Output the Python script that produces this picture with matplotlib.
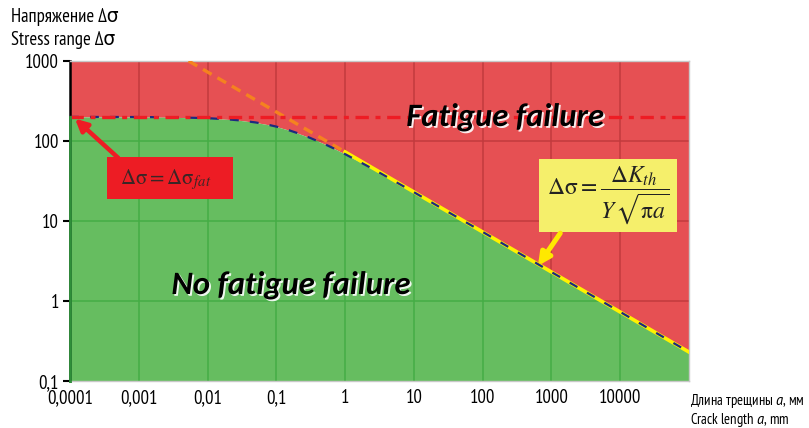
import numpy as np
import matplotlib.pyplot as plt
import matplotlib.patheffects as pe
from matplotlib.patches import Rectangle

plt.rcParams['font.family'] = ['PT Sans Narrow', 'DejaVu Sans']
plt.rcParams['mathtext.fontset'] = 'custom'
plt.rcParams['mathtext.rm'] = 'PT Sans Narrow'
plt.rcParams['mathtext.it'] = 'PT Sans:italic'

# values
crack_len = [1e-4, 1e-3, 3e-3, 0.01, 0.02, 0.03, 0.05, 0.075, 0.1, 0.15, 0.2,
             0.3, 0.5, 0.7, 1, 2, 3, 10, 100, 1000, 1e4, 1e5]
stress_lim = [200, 199.3, 197.8, 192.9, 186, 180.6, 170.5, 160, 151.3, 137, 126,
              110.6, 91.7, 80, 68.5, 49.9, 41.2, 22.9, 7.3, 2.3, 0.73, 0.23]
fatigue_limit = 200
# threshold line dK_th / (Y sqrt(pi a)), dashed part and solid part
thr_dash_a = [0.0053, 1.0]
thr_dash_s = [1000, 73]
thr_solid_a = [1.0, 1e5]
thr_solid_s = [73, 0.23]

x_ticks = [1e-4, 1e-3, 1e-2, 0.1, 1, 10, 100, 1000, 1e4, 1e5]
x_labels = ['0,0001', '0,001', '0,01', '0,1', '1', '10', '100', '1000', '10000', '']
y_ticks = [0.1, 1, 10, 100, 1000]
y_labels = ['0,1', '1', '10', '100', '1000']

red = '#e65053'
green = '#66bd60'

fig = plt.figure(figsize=(8.09, 4.28), dpi=100)
ax = fig.add_axes([0.0865, 0.1098, 0.7652, 0.7477])
ax.set_xscale('log')
ax.set_yscale('log')
ax.set_xlim(x_ticks[0], x_ticks[-1])
ax.set_ylim(y_ticks[0], y_ticks[-1])

red_fill = ax.fill_between(crack_len, stress_lim, y_ticks[-1], color=red, lw=0, zorder=1)
green_fill = ax.fill_between(crack_len, y_ticks[0], stress_lim, color=green, lw=0, zorder=1)

# grid lines, coloured per region
for fill, gcol in [(red_fill, '#c23a3d'), (green_fill, '#45ad45')]:
    path = fill.get_paths()[0]
    vl = ax.vlines(x_ticks[1:-1], y_ticks[0], y_ticks[-1], colors=gcol, lw=1.1, zorder=1.5)
    hl = ax.hlines(y_ticks[1:-1], x_ticks[0], x_ticks[-1], colors=gcol, lw=1.1, zorder=1.5)
    vl.set_clip_path(path, fill.get_transform())
    hl.set_clip_path(path, fill.get_transform())

# threshold asymptote
ax.plot(thr_dash_a, thr_dash_s, color='#f5821f', lw=2.4, dashes=(3, 2), zorder=3)
ax.plot(thr_solid_a, thr_solid_s, color='#fff200', lw=2.6, zorder=3)
# limit curve
ax.plot(crack_len, stress_lim, color='#1c2a80', lw=1.6, dashes=(4, 5), zorder=4)
# fatigue limit
ax.axhline(fatigue_limit, color='#ee1c24', lw=2.4, dashes=(4, 2, 1.5, 2), zorder=5)
# dark green edge on the left of the safe zone
ax.plot([crack_len[0], crack_len[0]], [y_ticks[0], stress_lim[0]], color='#2f8f3a',
        lw=2, zorder=6, clip_on=False)

for s in ['top', 'right', 'bottom']:
    ax.spines[s].set_color('#c8c8c8')
    ax.spines[s].set_linewidth(1)
ax.spines['left'].set_linewidth(1.8)
ax.spines['left'].set_color('black')

ax.set_xticks(x_ticks)
ax.set_xticklabels(x_labels)
ax.set_yticks(y_ticks)
ax.set_yticklabels(y_labels)
ax.minorticks_off()
ax.tick_params(axis='x', length=0, pad=6, labelsize=13.5)
ax.tick_params(axis='y', length=5, width=1.5, pad=3, labelsize=13.5)

# region labels
shadow = [pe.SimplePatchShadow(offset=(1.3, -1.3), shadow_rgbFace='white', alpha=0.9), pe.Normal()]
big_font = ['Carlito', 'Lato', 'DejaVu Sans']
ax.text(0.703, 0.825, 'Fatigue failure', transform=ax.transAxes, ha='center', va='center',
        fontsize=23.5, fontweight='bold', fontstyle='italic', family=big_font,
        color='black', zorder=7, path_effects=shadow)
ax.text(0.357, 0.30, 'No fatigue failure', transform=ax.transAxes, ha='center', va='center',
        fontsize=23.5, fontweight='bold', fontstyle='italic', family=big_font,
        color='black', zorder=7, path_effects=shadow)

# fatigue limit callout
ax.add_patch(Rectangle((0.060, 0.569), 0.203, 0.131, transform=ax.transAxes,
                       fc='#ed1c24', ec='none', zorder=8))
ax.text(0.080, 0.630, r'$\mathrm{\Delta\sigma = \Delta\sigma}_{\mathit{fat}}$', transform=ax.transAxes,
        ha='left', va='center', fontsize=15, color='#3a2626', math_fontfamily='stix', zorder=9)
ax.annotate('', xy=(0.008, 0.82), xycoords=ax.transAxes, xytext=(0.078, 0.697),
            textcoords=ax.transAxes,
            arrowprops=dict(arrowstyle='-|>', color='#ee1c24', lw=3.2, mutation_scale=18,
                            shrinkA=0, shrinkB=0), zorder=9)

# threshold callout
ax.add_patch(Rectangle((0.758, 0.466), 0.223, 0.228, transform=ax.transAxes,
                       fc='#f5ef6b', ec='none', zorder=8))
ax.text(0.869, 0.58, r'$\mathrm{\Delta\sigma} = \dfrac{\mathrm{\Delta} K_{th}}{Y\,\sqrt{\mathrm{\pi} a}}$',
        transform=ax.transAxes, ha='center', va='center', fontsize=17, color='#222222',
        math_fontfamily='stix', zorder=9)
ax.annotate('', xy=(0.756, 0.36), xycoords=ax.transAxes, xytext=(0.792, 0.462),
            textcoords=ax.transAxes,
            arrowprops=dict(arrowstyle='-|>', color='#ffe800', lw=3.6, mutation_scale=18,
                            shrinkA=0, shrinkB=0), zorder=9)

# axis titles
fig.text(0.014, 0.96, 'Напряжение Δσ', ha='left', va='center', fontsize=13.5)
fig.text(0.014, 0.906, 'Stress range Δσ', ha='left', va='center', fontsize=13.5)
fig.text(0.853, 0.064, 'Длина трещины $a$, мм', ha='left', va='center', fontsize=10.5)
fig.text(0.853, 0.018, 'Crack length $a$, mm', ha='left', va='center', fontsize=10.5)

fig.savefig('out.png', dpi=100)
